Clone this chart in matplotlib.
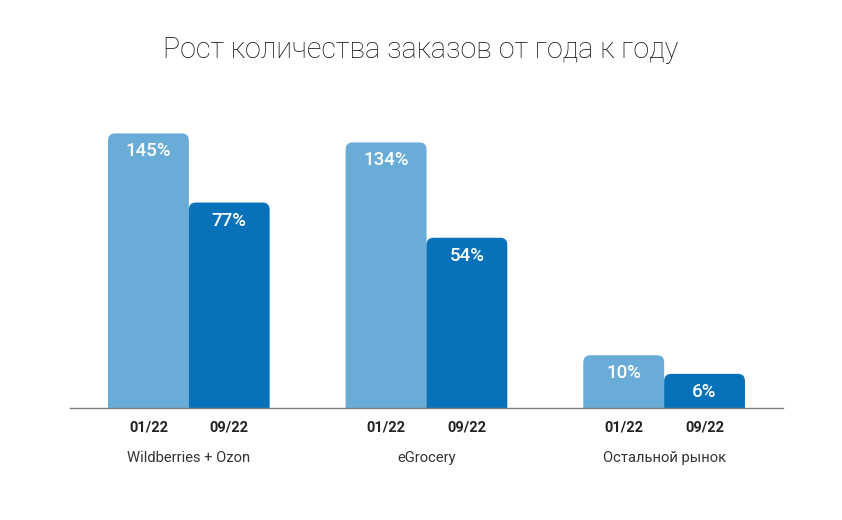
import numpy as np
import matplotlib
matplotlib.use('Agg')
import matplotlib.pyplot as plt
from matplotlib.patches import FancyBboxPatch
from matplotlib import patheffects as pe

groups = ['Wildberries + Ozon', 'eGrocery', 'Остальной рынок']
periods = ['01/22', '09/22']
vals_jan = [145, 134, 10]
vals_sep = [77, 54, 6]

light = '#69acd7'
dark = '#0772ba'

plt.rcParams['font.family'] = ['Roboto', 'DejaVu Sans']

fig = plt.figure(figsize=(8.42, 5.2), dpi=100)
ax = fig.add_axes([0.0831, 0.2154, 0.8468, 0.6])

# шкала не линейная на картинке, ближе всего log(1 + v/20)
ax.set_yscale('function', functions=(lambda v: np.log1p(np.asarray(v) / 20.0),
                                     lambda u: 20.0 * np.expm1(np.asarray(u))))
ax.set_ylim(0, 200)
ax.set_xlim(-0.5, 2.5)

x = np.arange(len(groups))
w = 0.34
b1 = ax.bar(x - w / 2, vals_jan, w, color=light)
b2 = ax.bar(x + w / 2, vals_sep, w, color=dark)

fig.canvas.draw()
r = 7
for bars, col in ((b1, light), (b2, dark)):
    for bar in bars:
        bb = bar.get_window_extent()
        bar.set_visible(False)
        p = FancyBboxPatch((bb.x0, bb.y0 - r), bb.width, bb.height + r,
                           boxstyle=f'round,pad=0,rounding_size={r}',
                           transform=None, facecolor=col, edgecolor='none',
                           zorder=2)
        p.set_clip_box(ax.bbox)
        p.set_path_effects([pe.SimplePatchShadow(offset=(0, -2.5), alpha=0.12,
                                                 shadow_rgbFace='k'),
                            pe.Normal()])
        ax.add_artist(p)

for bars, vals in ((b1, vals_jan), (b2, vals_sep)):
    for bar, v in zip(bars, vals):
        ax.annotate(f'{v}%', (bar.get_x() + bar.get_width() / 2, v),
                    xytext=(0, -18), textcoords='offset pixels',
                    ha='center', va='center', color='white',
                    fontsize=13.5, fontweight='medium', zorder=3)

ax.set_xticks(np.concatenate([x - w / 2, x + w / 2]))
ax.set_xticklabels([periods[0]] * 3 + [periods[1]] * 3,
                   fontsize=10.5, fontweight='bold', color='#222222')
ax.tick_params(axis='x', length=0, pad=9)
ax.set_yticks([])

for i, g in enumerate(groups):
    ax.text(i, -0.16, g, transform=ax.get_xaxis_transform(),
            ha='center', va='center', fontsize=10.6, color='#333333')

for s in ['top', 'right', 'left']:
    ax.spines[s].set_visible(False)
ax.spines['bottom'].set_color('#808080')
ax.spines['bottom'].set_linewidth(1)
ax.spines['bottom'].set_zorder(4)

fig.text(0.5, 0.904, 'Рост количества заказов от года к году', ha='center',
         va='center', fontsize=20.6, fontweight='light', color='#111111')

fig.savefig('out.png', dpi=100, facecolor='white')
